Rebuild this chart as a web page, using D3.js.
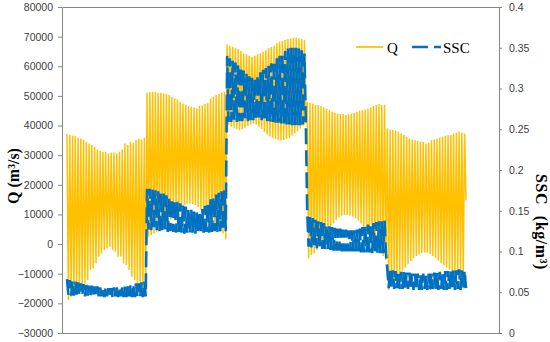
<!DOCTYPE html>
<html>
<head>
<meta charset="utf-8">
<script src="https://cdn.jsdelivr.net/npm/d3@7"></script>
<style>
  body { margin: 0; background: #fff; }
</style>
</head>
<body>
<script>
// tick values of both axes
var qTicks = [-30000, -20000, -10000, 0, 10000, 20000, 30000, 40000, 50000, 60000, 70000, 80000];
var sscTicks = [0, 0.05, 0.1, 0.15, 0.2, 0.25, 0.3, 0.35, 0.4];

// Q (m3/s): flood peaks and ebb troughs, one row per discharge stage
var qHigh = [
  [37125, 36900, 36675, 36450, 36000, 35660, 35325, 34540, 33975, 33410, 32850, 31950, 31500, 31050, 31160, 30600, 30825, 30940, 30600, 31160, 31950, 33975, 33410, 34540, 34200, 35100, 35660, 35325, 35890],
  [51075, 51300, 51410, 51300, 51075, 51075, 50850, 50625, 50290, 49725, 49160, 48825, 48040, 47475, 46910, 46575, 46350, 46125, 45790, 46575, 46800, 47250, 47700, 49160, 49725, 50290, 50625, 51075, 51410],
  [67390, 66940, 66600, 66260, 65810, 65140, 64350, 64010, 63560, 63225, 63560, 64010, 64350, 64910, 65475, 66040, 66600, 66940, 67725, 68290, 68510, 68850, 69190, 69410, 69640, 69640, 69410, 69190, 68850],
  [48040, 47700, 47475, 46910, 46910, 46575, 46125, 45790, 45225, 44660, 44325, 44100, 43875, 43875, 43540, 43875, 44100, 44325, 44660, 45000, 45225, 45450, 45790, 46125, 46575, 46910, 47250, 46910, 47025],
  [39040, 38700, 38475, 38250, 37915, 37350, 36790, 36225, 35660, 35325, 35100, 34875, 34540, 34540, 33975, 34200, 35100, 35325, 35660, 36000, 36225, 36450, 36790, 36790, 37350, 37575, 37915, 37575, 37350]
];
var qLow = [
  [-18900, -17775, -17210, -15525, -16090, -15525, -13275, -12150, -8775, -8210, -6525, -4275, -3150, -2025, -1460, -900, -2025, -2590, -4275, -4275, -6525, -7090, -8775, -11025, -12150, -13275, -14400, -15525, -17775],
  [2475, 3040, 3600, 4165, 4725, 5290, 5850, 6975, 8100, 9225, 10350, 11475, 12600, 13160, 13725, 13725, 13500, 13160, 12600, 11475, 10350, 9225, 8100, 6975, 5850, 4725, 4165, 3600, 1575],
  [40160, 39600, 39260, 38810, 38475, 38810, 39260, 39825, 40385, 40725, 40385, 39600, 38810, 37915, 37015, 36340, 35890, 35440, 35100, 34990, 35100, 35440, 35890, 36565, 37350, 38140, 39035, 39940, 40725],
  [-4840, -3710, -3150, -2025, -900, 790, 2475, 4165, 5850, 6975, 8100, 9000, 9560, 9790, 9790, 9560, 9225, 8660, 7875, 6975, 5850, 4725, 3375, 1915, 450, -900, -2590, -4050, -5400],
  [-15525, -14200, -12800, -11500, -10300, -9200, -8000, -6800, -5700, -4800, -4000, -3400, -3000, -2800, -2900, -3300, -4000, -4800, -5600, -6400, -7200, -7900, -8600, -9200, -9700, -10100, -10300, -10000, 14800]
];

// SSC (kg/m3): highs and lows for the same cycles
var sscHigh = [
  [0.066, 0.065, 0.064, 0.063, 0.062, 0.061, 0.060, 0.059, 0.058, 0.058, 0.057, 0.057, 0.056, 0.056, 0.056, 0.055, 0.055, 0.056, 0.056, 0.056, 0.057, 0.057, 0.058, 0.059, 0.060, 0.061, 0.061, 0.062, 0.063],
  [0.177, 0.177, 0.176, 0.175, 0.174, 0.173, 0.171, 0.169, 0.167, 0.165, 0.163, 0.161, 0.159, 0.157, 0.155, 0.153, 0.151, 0.149, 0.148, 0.149, 0.152, 0.156, 0.160, 0.164, 0.167, 0.170, 0.172, 0.174, 0.175],
  [0.340, 0.337, 0.334, 0.332, 0.330, 0.327, 0.322, 0.318, 0.315, 0.313, 0.312, 0.316, 0.320, 0.323, 0.325, 0.328, 0.331, 0.334, 0.337, 0.340, 0.343, 0.346, 0.349, 0.350, 0.350, 0.350, 0.349, 0.347, 0.343],
  [0.147, 0.144, 0.141, 0.139, 0.137, 0.136, 0.135, 0.133, 0.131, 0.130, 0.129, 0.128, 0.128, 0.127, 0.127, 0.126, 0.126, 0.126, 0.127, 0.128, 0.130, 0.132, 0.133, 0.134, 0.135, 0.136, 0.137, 0.137, 0.138],
  [0.079, 0.078, 0.077, 0.076, 0.076, 0.075, 0.075, 0.074, 0.074, 0.073, 0.073, 0.073, 0.072, 0.073, 0.072, 0.073, 0.073, 0.074, 0.074, 0.075, 0.075, 0.076, 0.076, 0.077, 0.077, 0.077, 0.078, 0.077, 0.077]
];
var sscLow = [
  [0.047, 0.046, 0.046, 0.047, 0.046, 0.046, 0.045, 0.046, 0.045, 0.045, 0.046, 0.045, 0.045, 0.044, 0.045, 0.045, 0.044, 0.045, 0.044, 0.045, 0.044, 0.044, 0.045, 0.044, 0.044, 0.045, 0.044, 0.044, 0.045],
  [0.127, 0.126, 0.127, 0.126, 0.125, 0.126, 0.125, 0.124, 0.125, 0.124, 0.123, 0.124, 0.123, 0.122, 0.123, 0.122, 0.123, 0.122, 0.123, 0.122, 0.123, 0.124, 0.123, 0.124, 0.125, 0.124, 0.125, 0.126, 0.125],
  [0.259, 0.259, 0.260, 0.259, 0.260, 0.260, 0.261, 0.260, 0.261, 0.261, 0.262, 0.261, 0.261, 0.260, 0.260, 0.259, 0.259, 0.258, 0.258, 0.257, 0.257, 0.256, 0.256, 0.255, 0.255, 0.255, 0.255, 0.256, 0.256],
  [0.106, 0.105, 0.105, 0.104, 0.104, 0.103, 0.103, 0.102, 0.102, 0.101, 0.101, 0.101, 0.100, 0.100, 0.100, 0.100, 0.100, 0.100, 0.100, 0.099, 0.099, 0.099, 0.099, 0.098, 0.098, 0.098, 0.098, 0.098, 0.098],
  [0.055, 0.055, 0.054, 0.055, 0.054, 0.054, 0.053, 0.054, 0.053, 0.053, 0.054, 0.053, 0.053, 0.054, 0.053, 0.053, 0.054, 0.053, 0.053, 0.054, 0.053, 0.053, 0.054, 0.053, 0.053, 0.054, 0.053, 0.054, 0.055]
];

var w = 550;
var h = 342;
var svg = d3.select("body").append("svg")
            .attr("width", w)
            .attr("height", h);

// flatten high/low pairs into one time series each
var qSeries = [];
var sscSeries = [];
qHigh.forEach(function(row, s) {
  row.forEach(function(v, i) {
    qSeries.push(v, qLow[s][i]);
    sscSeries.push(sscHigh[s][i], sscLow[s][i]);
  });
});

var x = d3.scaleLinear()
          .domain([0, qSeries.length - 1])
          .range([67, 466]);
var yQ = d3.scaleLinear()
           .domain([-30000, 80000])
           .range([333, 7]);
var ySSC = d3.scaleLinear()
             .domain([0, 0.4])
             .range([333, 7]);

var axisColor = "#868686";

// frame lines top and bottom
svg.append("line")
   .attr("x1", 62.5).attr("x2", 499.5)
   .attr("y1", yQ(80000) + 0.5).attr("y2", yQ(80000) + 0.5)
   .attr("stroke", axisColor);
svg.append("line")
   .attr("x1", 62.5).attr("x2", 499.5)
   .attr("y1", yQ(-30000) + 0.5).attr("y2", yQ(-30000) + 0.5)
   .attr("stroke", axisColor);

// left axis
var leftAxis = svg.append("g")
                  .attr("transform", "translate(62,0)")
                  .call(d3.axisLeft(yQ).tickValues(qTicks).tickSize(4).tickSizeOuter(0)
                          .tickPadding(5).tickFormat(d3.format("d")));

// right axis
var rightAxis = svg.append("g")
                   .attr("transform", "translate(499,0)")
                   .call(d3.axisRight(ySSC).tickValues(sscTicks).tickSize(3).tickSizeOuter(0)
                           .tickPadding(7).tickFormat(function(d) { return String(d); }));

svg.selectAll(".domain, .tick line").attr("stroke", axisColor);
svg.selectAll(".tick text")
   .attr("fill", "#404040")
   .style("font-family", "'Liberation Sans', Arial, sans-serif")
   .style("font-size", "10.5px");

// Q line
var qLine = d3.line()
              .x(function(d, i) { return x(i); })
              .y(function(d) { return yQ(d); });
svg.append("path")
   .datum(qSeries)
   .attr("d", qLine)
   .attr("fill", "none")
   .attr("stroke", "#FFC000")
   .attr("stroke-width", 1.5);

// SSC line
var sscLine = d3.line()
                .x(function(d, i) { return x(i); })
                .y(function(d) { return ySSC(d); });
svg.append("path")
   .datum(sscSeries)
   .attr("d", sscLine)
   .attr("fill", "none")
   .attr("stroke", "#0070C0")
   .attr("stroke-width", 2.6)
   .attr("stroke-dasharray", "16,6");

// axis titles
svg.append("text")
   .attr("transform", "translate(13,176) rotate(-90)")
   .attr("text-anchor", "middle")
   .attr("dy", "0.35em")
   .style("font-family", "'Liberation Serif', 'Times New Roman', serif")
   .style("font-weight", "bold")
   .style("font-size", "16px")
   .text("Q (m³/s)");
svg.append("text")
   .attr("transform", "translate(542,222) rotate(90)")
   .attr("text-anchor", "middle")
   .attr("dy", "0.35em")
   .style("font-family", "'Liberation Serif', 'Times New Roman', serif")
   .style("font-weight", "bold")
   .style("font-size", "16px")
   .style("word-spacing", "6px")
   .style("letter-spacing", "0.6px")
   .text("SSC (kg/m³)");

// legend
var legend = svg.append("g").style("font-family", "'Liberation Serif', 'Times New Roman', serif")
                .style("font-size", "15px");
legend.append("line")
      .attr("x1", 356).attr("x2", 383).attr("y1", 47).attr("y2", 47)
      .attr("stroke", "#FFC000").attr("stroke-width", 1.75);
legend.append("text").attr("x", 387).attr("y", 52.5).text("Q");
legend.append("line")
      .attr("x1", 412).attr("x2", 441).attr("y1", 47).attr("y2", 47)
      .attr("stroke", "#0070C0").attr("stroke-width", 2.6)
      .attr("stroke-dasharray", "16,6");
legend.append("text").attr("x", 443).attr("y", 52.5).text("SSC");
</script>
</body>
</html>
